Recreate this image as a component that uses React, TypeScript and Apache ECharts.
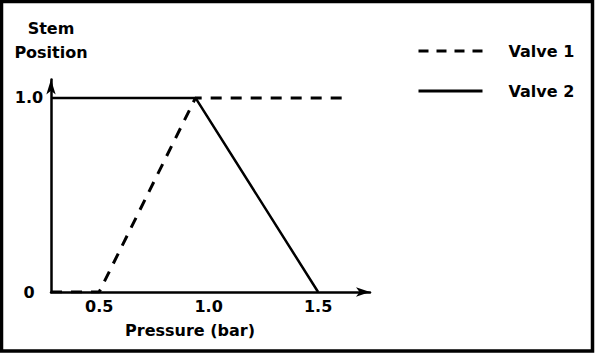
import React, { useEffect, useRef } from "react";
import * as echarts from "echarts";

const valve1: [number, number][] = [
  [0.28, 0],
  [0.5, 0],
  [0.94, 1],
  [1.635, 1],
];
const valve2: [number, number][] = [
  [0.28, 1],
  [0.94, 1],
  [1.5, 0],
];
const xTicks = [0.5, 1.0, 1.5];
const yTicks = [0, 1];
const seriesNames = ["Valve 1", "Valve 2"];

const FONT = "DejaVu Sans";

export default function App() {
  const ref = useRef<HTMLDivElement>(null);
  useEffect(() => {
    if (!ref.current) return;
    const chart = echarts.init(ref.current, null, { renderer: "svg" });
    const textBase = { fontFamily: FONT, fontSize: 16, fontWeight: "bold" as const, color: "#000" };
    chart.setOption({
      animation: false,
      backgroundColor: "#fff",
      grid: { left: 51, right: 225, top: 79.5, bottom: 61, containLabel: false },
      legend: {
        data: [
          { name: seriesNames[0], lineStyle: { type: [10, 8], width: 3 } },
          { name: seriesNames[1], lineStyle: { type: "solid", width: 3 } },
        ],
        orient: "vertical",
        left: 412,
        top: 36,
        itemWidth: 64,
        itemHeight: 14,
        itemGap: 20,
        itemStyle: { opacity: 0 },
        textStyle: { ...textBase, lineHeight: 20, padding: [0, 0, 0, 21] },
      },
      xAxis: {
        type: "value",
        min: 0.28,
        max: 1.737,
        name: "Pressure (bar)",
        nameLocation: "middle",
        nameGap: 25,
        nameTextStyle: { ...textBase, lineHeight: 20, padding: [0, 41, 0, 0] },
        axisLine: {
          show: true,
          onZero: false,
          lineStyle: { color: "#000", width: 2.5 },
          symbol: ["none", "arrow"],
          symbolSize: [7, 14],
        },
        axisTick: { show: false },
        splitLine: { show: false },
        axisLabel: {
          ...textBase,
          lineHeight: 20,
          margin: 4,
          customValues: xTicks,
          formatter: (v: number) => v.toFixed(1),
        },
      },
      yAxis: {
        type: "value",
        min: 0,
        max: 1.095,
        name: "Stem\nPosition",
        nameLocation: "end",
        nameGap: 15,
        nameTextStyle: { ...textBase, lineHeight: 24, align: "center" },
        axisLine: {
          show: true,
          onZero: false,
          lineStyle: { color: "#000", width: 2.5 },
          symbol: ["none", "arrow"],
          symbolSize: [7, 15],
        },
        axisTick: { show: false },
        splitLine: { show: false },
        axisLabel: {
          ...textBase,
          margin: 22,
          align: "center",
          customValues: yTicks,
          formatter: (v: number) => (v === 0 ? "0" : v.toFixed(1)),
        },
      },
      graphic: [
        {
          type: "rect",
          shape: { x: 1.5, y: 1.5, width: 591, height: 349.5 },
          style: { fill: "none", stroke: "#000", lineWidth: 3.5 },
          z: 100,
        },
      ],
      series: [
        {
          name: seriesNames[0],
          type: "line",
          data: valve1,
          symbol: "none",
          lineStyle: { color: "#000", width: 3, type: [11, 9] },
          itemStyle: { color: "#000" },
        },
        {
          name: seriesNames[1],
          type: "line",
          data: valve2,
          symbol: "none",
          lineStyle: { color: "#000", width: 2.5, type: "solid" },
          itemStyle: { color: "#000" },
        },
      ],
    });
    return () => chart.dispose();
  }, []);
  return (
    <div
      ref={ref}
      style={{ position: "absolute", left: 0, top: 0, width: 595, height: 353 }}
    />
  );
}
